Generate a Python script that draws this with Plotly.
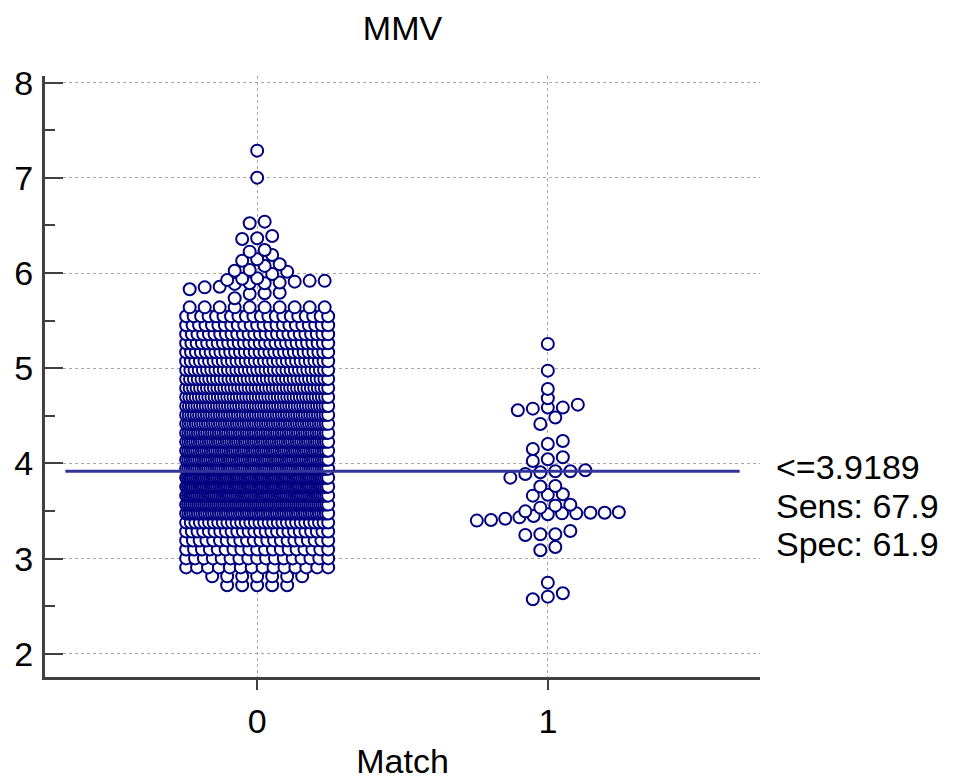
import plotly.graph_objects as go

# ---------------- data ----------------
categories = [0, 1]
category_labels = ["0", "1"]

# Match = 0 : dense body, one entry per visible row (row value, number of dots)
group0_row_values = [2.720, 2.814, 2.908, 3.003, 3.097, 3.191, 3.285, 3.379,
                     3.474, 3.568, 3.662, 3.756, 3.850, 3.945, 4.039, 4.133,
                     4.227, 4.321, 4.416, 4.510, 4.604, 4.698, 4.792, 4.887,
                     4.981, 5.075, 5.169, 5.263, 5.358, 5.452, 5.546, 5.640]
group0_row_counts = [5, 7, 14, 17, 19, 22, 26, 32,
                     62, 72, 76, 78, 78, 66, 66, 65,
                     64, 62, 60, 56, 52, 46, 42, 38,
                     35, 32, 30, 28, 26, 23, 20, 10]
# Match = 0 : sparse upper tail, individual values
group0_tail_values = [7.286, 7.002, 6.540, 6.523, 6.390, 6.365, 6.358, 6.243,
                      6.225, 6.190, 6.145, 6.130, 6.092, 6.075, 6.033, 6.025,
                      6.015, 5.990, 5.945, 5.941, 5.928, 5.918, 5.918, 5.910,
                      5.900, 5.893, 5.893, 5.886, 5.857, 5.850, 5.830, 5.794,
                      5.788, 5.780, 5.735]

# Match = 1 : individual values
group1_values = [5.256, 4.975, 4.783, 4.685, 4.618, 4.587, 4.587, 4.576, 4.559,
                 4.482, 4.415, 4.236, 4.205, 4.152, 4.065, 4.044, 4.026, 3.928,
                 3.918, 3.918, 3.907, 3.890, 3.851, 3.764, 3.758, 3.676, 3.672,
                 3.662, 3.567, 3.557, 3.536, 3.497, 3.488, 3.483, 3.483, 3.476,
                 3.476, 3.466, 3.448, 3.434, 3.420, 3.406, 3.400, 3.291, 3.256,
                 3.256, 3.249, 3.123, 3.088, 2.748, 2.636, 2.601, 2.573]

threshold = 3.9189
stats_labels = ["<=3.9189", "Sens: 67.9", "Spec: 61.9"]
y_ticks = [2, 3, 4, 5, 6, 7, 8]

# ---------------- dot-plot layout (row binning like the original) ----------------
ROW_H = 0.09      # value span that shares one row
DOT_DX = 0.0516   # horizontal spacing of dots (data units)
HALF_W = 0.2443   # max half width of a row (data units)


def dot_layout(values, center):
    vals = sorted(values)
    rows = []
    for v in vals:
        if rows and v - rows[-1][0] <= ROW_H + 1e-9:
            rows[-1].append(v)
        else:
            rows.append([v])
    xs, ys = [], []
    for row in rows:
        n = len(row)
        s = DOT_DX if n < 2 else min(DOT_DX, 2 * HALF_W / (n - 1))
        for i, v in enumerate(row):
            xs.append(center + (i - (n - 1) / 2) * s)
            ys.append(v)
    return xs, ys


group0_values = []
for v, c in zip(group0_row_values, group0_row_counts):
    group0_values += [v] * c
group0_values += group0_tail_values

x0, y0 = dot_layout(group0_values, categories[0])
x1, y1 = dot_layout(group1_values, categories[1])

FONT = "Liberation Sans, Arial, sans-serif"
FS = 34
AXIS_COL = "#404040"
DOT_COL = "#000080"
GRID_COL = "#a8a8a8"

marker = dict(symbol="circle", size=12, color="white",
              line=dict(color=DOT_COL, width=2))

fig = go.Figure()
fig.add_trace(go.Scatter(x=x0, y=y0, mode="markers", marker=marker,
                         showlegend=False, hoverinfo="y"))
fig.add_trace(go.Scatter(x=x1, y=y1, mode="markers", marker=marker,
                         showlegend=False, hoverinfo="y"))

fig.add_shape(type="line", xref="x", yref="y", x0=-0.66, x1=1.66,
              y0=threshold, y1=threshold,
              line=dict(color="#333399", width=3), layer="above")

ann_y = [0.350, 0.285, 0.221]
for txt, yy in zip(stats_labels, ann_y):
    fig.add_annotation(text=txt, xref="paper", yref="paper", x=1.02, y=yy,
                       xanchor="left", yanchor="middle", showarrow=False,
                       font=dict(family=FONT, size=FS, color="black"))

fig.update_layout(
    template="none",
    width=963, height=780,
    margin=dict(l=45, r=203, t=76, b=103, autoexpand=False),
    paper_bgcolor="white", plot_bgcolor="white",
    font=dict(family=FONT, size=FS, color="black"),
    hovermode="closest",
    title=dict(text="MMV", x=0.5 * (45 + 760) / 963, xanchor="center",
               y=1 - 28 / 780, yanchor="middle",
               font=dict(family=FONT, size=FS, color="black")),
    xaxis=dict(range=[-0.73, 1.73], tickvals=categories, ticktext=category_labels,
               ticks="outside", ticklen=10, tickwidth=2, tickcolor=AXIS_COL,
               showline=True, linecolor=AXIS_COL, linewidth=3,
               showgrid=True, gridcolor=GRID_COL, griddash="dot", gridwidth=1,
               zeroline=False, automargin=False, tickfont=dict(size=FS),
               ticklabelstandoff=2,
               title=dict(text="Match", standoff=19, font=dict(size=FS))),
    yaxis=dict(range=[1.757, 8.07], tickvals=y_ticks,
               ticks="inside", ticklen=18, tickwidth=2, tickcolor=AXIS_COL,
               minor=dict(ticks="inside", ticklen=10, tickwidth=2,
                          tickcolor=AXIS_COL, dtick=0.5, showgrid=False),
               showline=True, linecolor=AXIS_COL, linewidth=3,
               showgrid=True, gridcolor=GRID_COL, griddash="dot", gridwidth=1,
               zeroline=False, automargin=False, tickfont=dict(size=FS),
               ticklabelstandoff=2),
)

fig.write_html("out.html", config={"displayModeBar": False},
               post_script="document.body.style.margin='0px';")
